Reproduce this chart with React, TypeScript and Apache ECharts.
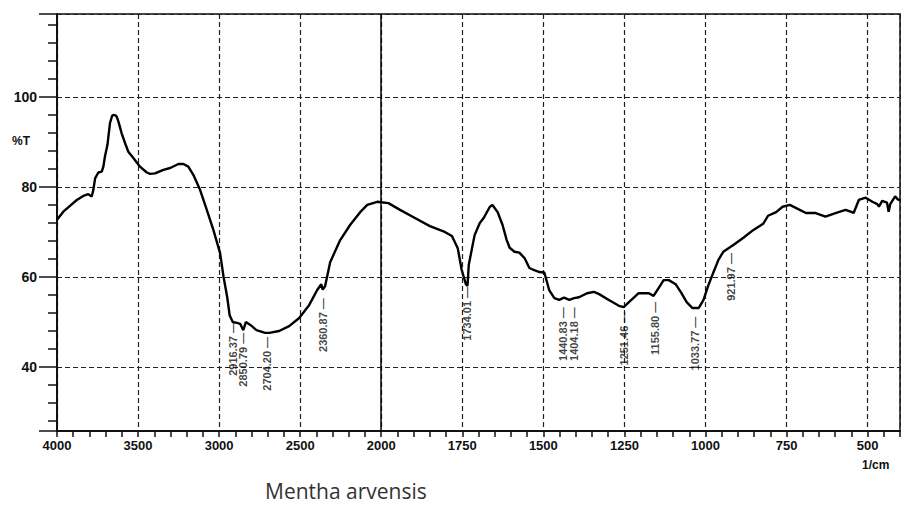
import React, { useEffect, useRef } from "react";
import * as echarts from "echarts";

// FTIR spectrum of Mentha arvensis: wavenumber (1/cm) and %T
const wavenumbers = [
  4000, 3961, 3920, 3878, 3838, 3807, 3786, 3776, 3765, 3745, 3724, 3714, 3704, 3689, 3673, 3660, 3652, 3640,
  3632, 3621, 3601, 3580, 3560, 3529, 3488, 3446, 3426, 3395, 3344, 3302, 3251, 3220, 3190, 3159, 3117, 3076,
  3035, 2994, 2973, 2950, 2935, 2916, 2890, 2870, 2851, 2835, 2805, 2770, 2716, 2690, 2630, 2568, 2506, 2444,
  2395, 2370, 2361, 2346, 2315, 2253, 2191, 2130, 2086, 2025, 2000, 1978, 1942, 1896, 1850, 1804, 1782, 1764,
  1752, 1739, 1734, 1730, 1712, 1696, 1684, 1665, 1657, 1641, 1626, 1613, 1604, 1589, 1574, 1558, 1543, 1528,
  1512, 1497, 1482, 1466, 1451, 1436, 1420, 1405, 1390, 1365, 1344, 1328, 1298, 1267, 1252, 1236, 1206, 1175,
  1160, 1144, 1129, 1113, 1092, 1074, 1058, 1040, 1021, 1006, 991, 975, 960, 945, 929, 914, 883, 853, 822, 807,
  782, 762, 740, 720, 690, 660, 630, 599, 568, 548, 543, 527, 506, 485, 470, 465, 455, 440, 435, 430, 415, 408, 400,
];
const transmittance = [
  72.7, 74.5, 75.8, 77.1, 78.0, 78.4, 77.9, 79.3, 81.9, 83.2, 83.4, 84.5, 86.8, 89.3, 94.2, 95.8, 96.0, 95.9,
  95.6, 94.5, 91.9, 89.7, 87.8, 86.4, 84.5, 83.2, 82.9, 83.0, 83.8, 84.2, 85.1, 85.1, 84.5, 82.7, 79.3, 74.9,
  70.4, 65.3, 60.1, 55.5, 51.5, 50.0, 49.8, 49.6, 48.2, 50.0, 49.3, 48.2, 47.6, 47.6, 48.0, 49.1, 50.9, 53.8,
  57.1, 58.4, 57.2, 58.0, 63.3, 68.2, 71.6, 74.4, 76.0, 76.7, 76.6, 76.4, 74.9, 73.1, 71.3, 70.0, 69.1, 66.4,
  61.6, 58.4, 58.0, 62.7, 69.3, 72.0, 73.1, 75.6, 76.0, 74.4, 71.6, 68.2, 66.5, 65.6, 65.4, 64.2, 62.0, 61.5,
  61.1, 61.0, 57.1, 55.3, 54.9, 55.4, 54.9, 55.3, 55.5, 56.4, 56.7, 56.2, 54.9, 53.6, 53.3, 54.4, 56.4, 56.4,
  55.8, 57.6, 59.3, 59.3, 58.4, 56.4, 54.4, 53.1, 53.1, 54.9, 58.2, 61.1, 63.8, 65.6, 66.4, 67.1, 68.7, 70.4, 71.8, 73.6,
  74.4, 75.6, 76.0, 75.3, 74.2, 74.2, 73.4, 74.2, 74.9, 74.4, 74.2, 77.1, 77.6, 76.7, 76.2, 75.6, 76.9, 76.5, 74.5, 76.2, 77.9, 77.3, 77.0,
];

// Peak annotations
const peakWavenumbers = [2916.37, 2850.79, 2704.2, 2360.87, 1734.01, 1440.83, 1404.18, 1251.46, 1155.8, 1033.77, 921.97];
const peakLabels = ["2916.37", "2850.79", "2704.20", "2360.87", "1734.01", "1440.83", "1404.18", "1251.46", "1155.80", "1033.77", "921.97"];
const peakTipValues = [50.0, 47.6, 46.7, 55.3, 57.8, 53.3, 53.3, 52.3, 54.5, 51.2, 65.3];

const yMin = 25.8;
const yMax = 118.4;

// Piecewise axis: 4000-2000 compressed by 2, 2000-400 linear
const toU = (w: number) => (w >= 2000 ? (4000 - w) / 2 : 1000 + (2000 - w));
const fromU = (u: number) => (u <= 1000 ? 4000 - 2 * u : 2000 - (u - 1000));

export default function App() {
  const ref = useRef<HTMLDivElement>(null);
  useEffect(() => {
    if (!ref.current) return;
    const chart = echarts.init(ref.current, null, { renderer: "svg" });
    const lineData = wavenumbers.map((w, i) => [toU(w), transmittance[i]]);
    const peakData = peakWavenumbers.map((w, i) => ({ value: [toU(w), peakTipValues[i]], name: peakLabels[i] }));
    const axisFont = { fontFamily: "Liberation Sans, Arial, sans-serif", fontWeight: "bold" as const, color: "#111" };
    chart.setOption({
      animation: false,
      backgroundColor: "#fff",
      grid: { left: 57, top: 14, right: 1, bottom: 74, show: true, borderColor: "#111", borderWidth: 1.5 },
      xAxis: {
        type: "value",
        min: 0,
        max: 2600,
        interval: 250,
        axisLine: { show: true, lineStyle: { color: "#111", width: 2 } },
        axisTick: { show: true, length: 6, lineStyle: { color: "#111", width: 1.5 } },
        minorTick: { show: true, splitNumber: 5, length: 6, lineStyle: { color: "#111", width: 1.5 } },
        splitLine: { show: true, lineStyle: { color: "#222", width: 1.2, type: [5, 3] } },
        axisLabel: {
          ...axisFont,
          fontSize: 13,
          margin: 8,
          showMaxLabel: false,
          formatter: (u: number) => (u > 2500 ? "" : String(fromU(u))),
        },
      },
      yAxis: {
        type: "value",
        min: yMin,
        max: yMax,
        splitNumber: 5,
        axisLine: { show: true, lineStyle: { color: "#111", width: 2 } },
        axisTick: { show: true, length: 18, lineStyle: { color: "#111", width: 1.5 } },
        minorTick: { show: true, splitNumber: 5, length: 9, lineStyle: { color: "#111", width: 1.5 } },
        splitLine: { show: true, lineStyle: { color: "#222", width: 1.2, type: [5, 3] } },
        axisLabel: {
          ...axisFont,
          fontSize: 14,
          margin: 20,
          showMinLabel: false,
          showMaxLabel: false,
          formatter: (v: number) => (Math.abs(v - Math.round(v / 20) * 20) < 1e-6 ? String(v) : ""),
        },
      },
      series: [
        {
          type: "line",
          data: lineData,
          showSymbol: false,
          symbol: "none",
          lineStyle: { color: "#000", width: 2.4 },
          z: 5,
          markLine: {
            silent: true,
            symbol: ["none", "none"],
            label: { show: false },
            lineStyle: { color: "#000", width: 1.5, type: "solid" },
            data: [{ xAxis: toU(2000) }],
          },
        },
        {
          type: "scatter",
          data: peakData,
          symbolSize: 0,
          silent: true,
          itemStyle: { color: "#111" },
          z: 6,
          label: {
            show: true,
            position: [0, 0],
            rotate: 90,
            align: "right",
            verticalAlign: "middle",
            fontSize: 11,
            fontWeight: "bold",
            fontFamily: "Liberation Sans Narrow, Liberation Sans, Arial, sans-serif",
            color: "#111",
            textBorderWidth: 0,
            textBorderColor: "transparent",
            formatter: (p: any) => p.name + " \u2014",
          },
        },
      ],
      graphic: [
        { type: "text", left: 12, top: 135, style: { text: "%T", fontSize: 12, fontWeight: "bold", fontFamily: "Liberation Sans, Arial, sans-serif", fill: "#111" } },
        { type: "text", left: 862, top: 459, style: { text: "1/cm", fontSize: 12, fontWeight: "bold", fontFamily: "Liberation Sans, Arial, sans-serif", fill: "#111" } },
        { type: "text", left: 265, top: 480, style: { text: "Mentha arvensis", fontSize: 21, fontFamily: "Open Sans, sans-serif", fill: "#333" } },
      ],
    });
    return () => chart.dispose();
  }, []);
  return <div ref={ref} style={{ width: 901, height: 505, position: "absolute", left: 0, top: 0 }} />;
}
